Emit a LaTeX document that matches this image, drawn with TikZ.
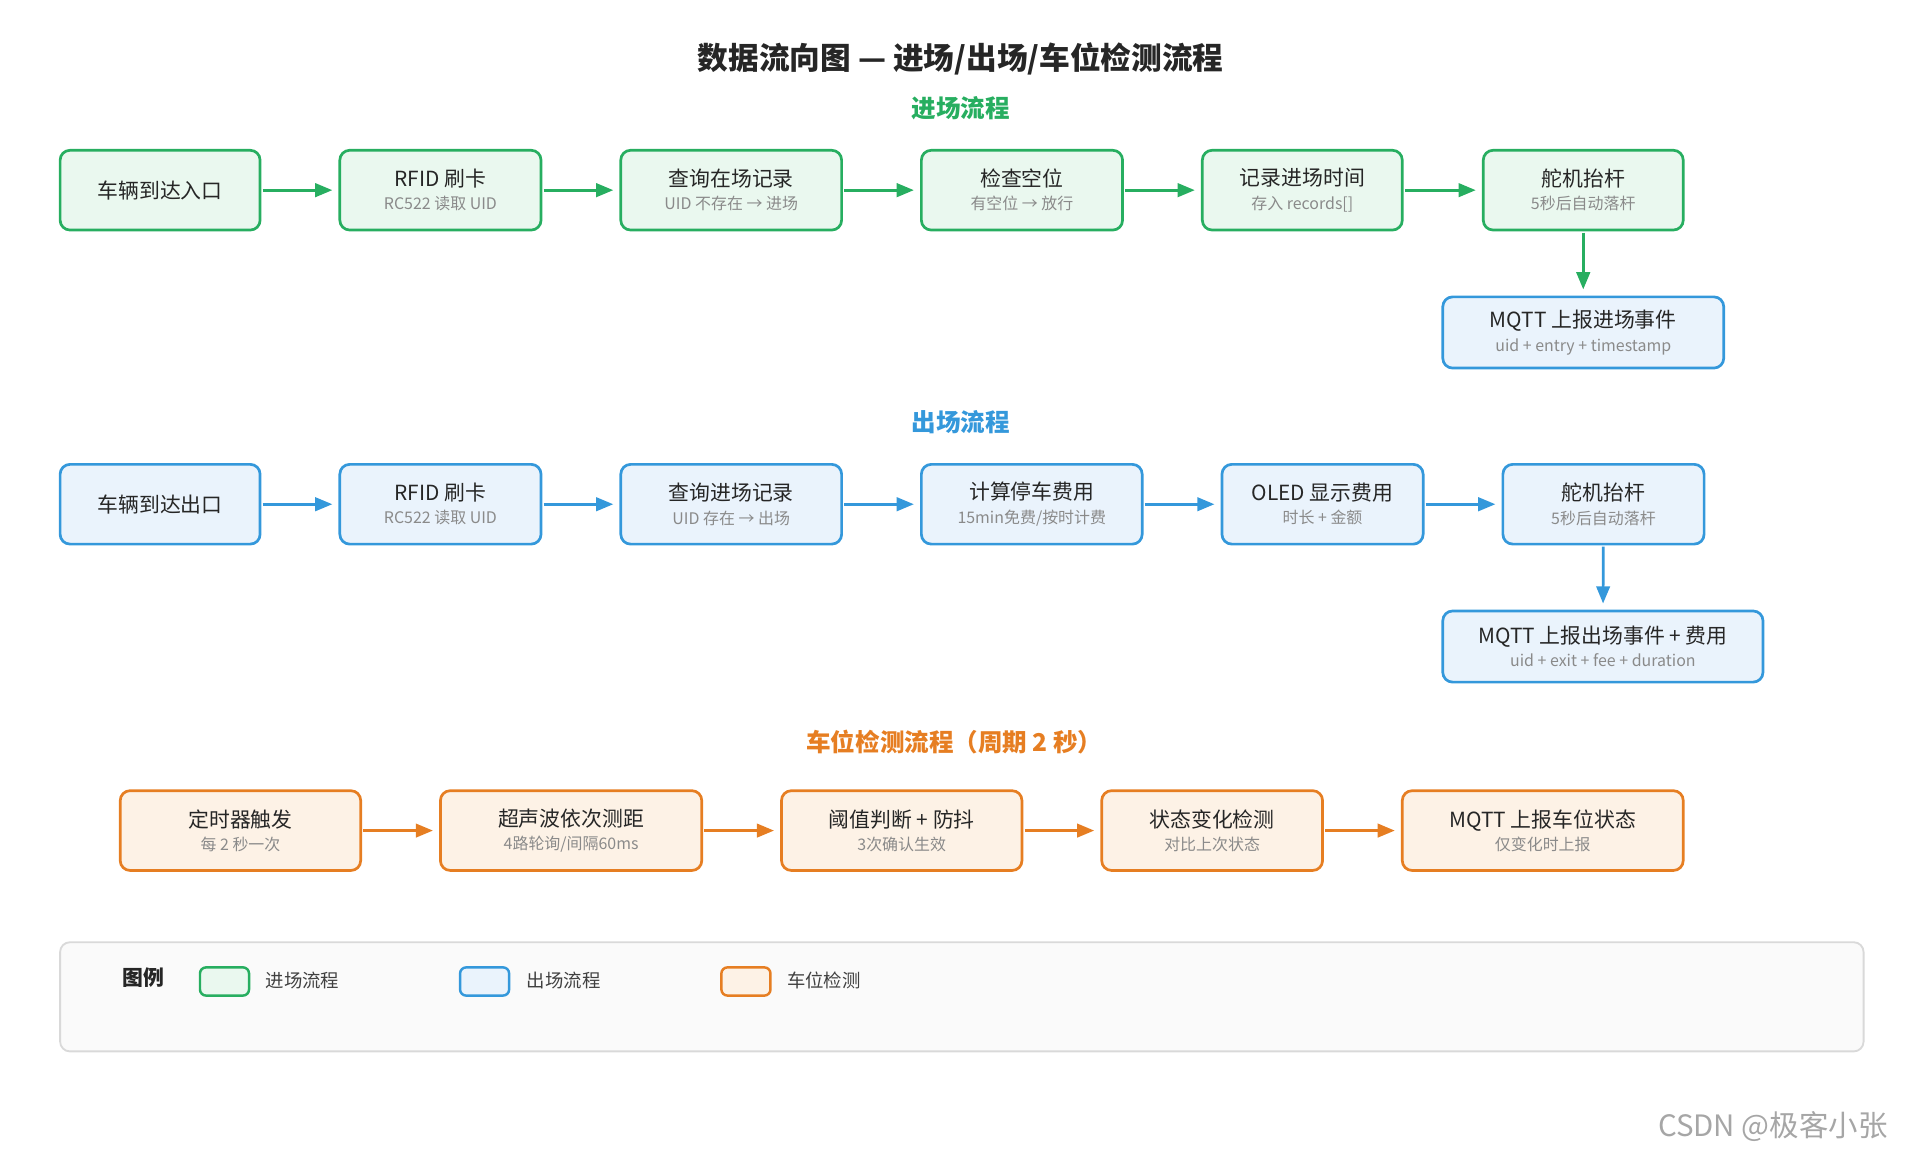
\documentclass[tikz,border=0pt]{standalone}
\usepackage{fontspec}
\setmainfont{Noto Sans CJK SC}
\usetikzlibrary{arrows.meta}
\definecolor{gB}{HTML}{27AE60}\definecolor{gF}{HTML}{EAF8EF}
\definecolor{bB}{HTML}{3498DB}\definecolor{bF}{HTML}{EAF3FC}
\definecolor{oB}{HTML}{E67E22}\definecolor{oF}{HTML}{FDF2E6}
\definecolor{subt}{HTML}{8A8A8A}
\begin{document}
\begin{tikzpicture}[x=1pt,y=-1pt,
 box/.style={draw,rounded corners=8pt,line width=2.2pt,minimum height=65pt,align=center,inner sep=2pt,font=\fontsize{17}{21}\selectfont,text=black!85},
 g/.style={box,draw=gB,fill=gF}, b/.style={box,draw=bB,fill=bF}, o/.style={box,draw=oB,fill=oF},
 ar/.style={line width=2.2pt,-{Triangle[length=14pt,width=11pt]},shorten >=5pt,shorten <=1pt},
 hd/.style={font=\fontsize{20}{24}\selectfont\bfseries}]
\useasboundingbox (0,0) rectangle (1565,945);
\newcommand\st[1]{\\[-2pt]{\fontsize{13}{15}\selectfont\color{subt}#1}}
\node[font=\fontsize{25}{30}\selectfont\bfseries,text=black!85] (t) at (783,48) {数据流向图 — 进场/出场/车位检测流程};
\node[hd,text=gB] (h1) at (783,88) {进场流程};
\node[hd,text=bB] (h2) at (783,344) {出场流程};
\node[hd,text=oB] (h3) at (778,605) {车位检测流程（周期 2 秒）};
% row1
\node[g,minimum width=163pt] (a1) at (130.5,155) {车辆到达入口};
\node[g,minimum width=164pt] (a2) at (359,155) {RFID 刷卡\st{RC522 读取 UID}};
\node[g,minimum width=180pt] (a3) at (596,155) {查询在场记录\st{UID 不存在 → 进场}};
\node[g,minimum width=164pt] (a4) at (833,155) {检查空位\st{有空位 → 放行}};
\node[g,minimum width=163pt] (a5) at (1061.5,155) {记录进场时间\st{存入 records[]}};
\node[g,minimum width=163pt] (a6) at (1290.5,155) {舵机抬杆\st{5秒后自动落杆}};
\node[b,minimum width=229pt,minimum height=58pt] (a7) at (1290.5,271) {MQTT 上报进场事件\st{uid + entry + timestamp}};
\foreach \p/\q in {a1/a2,a2/a3,a3/a4,a4/a5,a5/a6} \draw[ar,gB] (\p) -- (\q);
\draw[ar,gB] (a6) -- (a7);
% row2
\node[b,minimum width=163pt] (b1) at (130.5,411) {车辆到达出口};
\node[b,minimum width=164pt] (b2) at (359,411) {RFID 刷卡\st{RC522 读取 UID}};
\node[b,minimum width=180pt] (b3) at (596,411) {查询进场记录\st{UID 存在 → 出场}};
\node[b,minimum width=180pt] (b4) at (841,411) {计算停车费用\st{15min免费/按时计费}};
\node[b,minimum width=164pt] (b5) at (1078,411) {OLED 显示费用\st{时长 + 金额}};
\node[b,minimum width=164pt] (b6) at (1307,411) {舵机抬杆\st{5秒后自动落杆}};
\node[b,minimum width=261pt,minimum height=58pt] (b7) at (1306.5,527) {MQTT 上报出场事件 + 费用\st{uid + exit + fee + duration}};
\foreach \p/\q in {b1/b2,b2/b3,b3/b4,b4/b5,b5/b6} \draw[ar,bB] (\p) -- (\q);
\draw[ar,bB] (b6) -- (b7);
% row3
\node[o,minimum width=196pt] (c1) at (196,677) {定时器触发\st{每 2 秒一次}};
\node[o,minimum width=213pt] (c2) at (465.5,677) {超声波依次测距\st{4路轮询/间隔60ms}};
\node[o,minimum width=196pt] (c3) at (735,677) {阈值判断 + 防抖\st{3次确认生效}};
\node[o,minimum width=180pt] (c4) at (988,677) {状态变化检测\st{对比上次状态}};
\node[o,minimum width=229pt] (c5) at (1257.5,677) {MQTT 上报车位状态\st{仅变化时上报}};
\foreach \p/\q in {c1/c2,c2/c3,c3/c4,c4/c5} \draw[ar,oB] (\p) -- (\q);
% legend
\node[draw=black!15,fill=black!2,line width=1.5pt,rounded corners=8pt,minimum width=1470pt,minimum height=89pt] (lg) at (784,812.5) {};
\node[font=\fontsize{17}{20}\selectfont\bfseries,text=black!85] (lt) at (117,797) {图例};
\node[draw=gB,fill=gF,line width=2pt,rounded corners=5pt,minimum width=40pt,minimum height=23pt] (l1) at (183,800) {};
\node[anchor=west,font=\fontsize{15}{18}\selectfont,text=black!75] (l1t) at (213,799) {进场流程};
\node[draw=bB,fill=bF,line width=2pt,rounded corners=5pt,minimum width=40pt,minimum height=23pt] (l2) at (395,800) {};
\node[anchor=west,font=\fontsize{15}{18}\selectfont,text=black!75] (l2t) at (426,799) {出场流程};
\node[draw=oB,fill=oF,line width=2pt,rounded corners=5pt,minimum width=40pt,minimum height=23pt] (l3) at (608,800) {};
\node[anchor=west,font=\fontsize{15}{18}\selectfont,text=black!75] (l3t) at (638,799) {车位检测};
\node[font=\fontsize{24}{28}\selectfont,text=black!35] (wm) at (1445,918) {CSDN @极客小张};
\end{tikzpicture}
\end{document}
